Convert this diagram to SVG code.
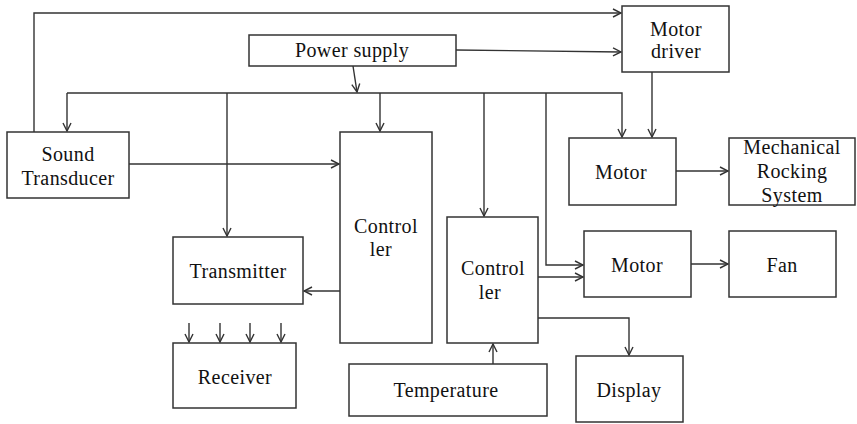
<svg xmlns="http://www.w3.org/2000/svg" width="857" height="424" viewBox="0 0 857 424">
<style>
.box{fill:#fff;stroke:#333;stroke-width:1.5}
.ln{fill:none;stroke:#333;stroke-width:1.4}
text{font-family:"Liberation Serif","Times New Roman",serif;font-size:20px;fill:#111;text-anchor:middle;letter-spacing:0.4px}
</style>
<defs>
<marker id="ah" markerUnits="userSpaceOnUse" markerWidth="10" markerHeight="10" refX="9" refY="5" orient="auto" viewBox="0 0 10 10">
<path d="M1,1 L9,5 L1,9" fill="none" stroke="#333" stroke-width="1.4"/>
</marker>
</defs>
<rect width="857" height="424" fill="#fff"/>
<g id="connectors">
<path class="ln" d="M34,132 V13 H621" marker-end="url(#ah)"/>
<path class="ln" d="M456,50 L621,52" marker-end="url(#ah)"/>
<path class="ln" d="M353,66 L357,92" marker-end="url(#ah)"/>
<path class="ln" d="M67,93 H622 V137" marker-end="url(#ah)"/>
<path class="ln" d="M67,93 V131" marker-end="url(#ah)"/>
<path class="ln" d="M227,93 V236" marker-end="url(#ah)"/>
<path class="ln" d="M380,93 V131" marker-end="url(#ah)"/>
<path class="ln" d="M484,93 V216" marker-end="url(#ah)"/>
<path class="ln" d="M546,93 V265 H583" marker-end="url(#ah)"/>
<path class="ln" d="M652,72 V137" marker-end="url(#ah)"/>
<path class="ln" d="M129,164 H339" marker-end="url(#ah)"/>
<path class="ln" d="M340,291 H304" marker-end="url(#ah)"/>
<path class="ln" d="M189,323 V342" marker-end="url(#ah)"/>
<path class="ln" d="M220,323 V342" marker-end="url(#ah)"/>
<path class="ln" d="M250,323 V342" marker-end="url(#ah)"/>
<path class="ln" d="M281,323 V342" marker-end="url(#ah)"/>
<path class="ln" d="M676,171 H728" marker-end="url(#ah)"/>
<path class="ln" d="M538,277 H583" marker-end="url(#ah)"/>
<path class="ln" d="M691,264 H728" marker-end="url(#ah)"/>
<path class="ln" d="M538,318 H629 V355" marker-end="url(#ah)"/>
<path class="ln" d="M493,364 V344" marker-end="url(#ah)"/>
</g>
<g id="power-supply"><rect class="box" x="249" y="35" width="207" height="31"/><text x="352" y="57">Power  supply</text></g>
<g id="motor-driver"><rect class="box" x="622" y="6" width="107" height="66"/><text x="676" y="36">Motor</text><text x="676" y="58">driver</text></g>
<g id="sound-transducer"><rect class="box" x="7" y="132" width="122" height="66"/><text x="68" y="161">Sound</text><text x="68" y="185">Transducer</text></g>
<g id="controller1"><rect class="box" x="340" y="132" width="92" height="211"/><text x="386" y="233">Control</text><text x="381" y="256">ler</text></g>
<g id="transmitter"><rect class="box" x="173" y="237" width="130" height="67"/><text x="238" y="278">Transmitter</text></g>
<g id="receiver"><rect class="box" x="173" y="343" width="123" height="65"/><text x="235" y="384">Receiver</text></g>
<g id="temperature"><rect class="box" x="349" y="364" width="198" height="52"/><text x="446" y="397">Temperature</text></g>
<g id="controller2"><rect class="box" x="447" y="217" width="91" height="126"/><text x="493" y="275">Control</text><text x="490" y="299">ler</text></g>
<g id="motor1"><rect class="box" x="569" y="138" width="107" height="67"/><text x="621" y="179">Motor</text></g>
<g id="mechanical"><rect class="box" x="729" y="138" width="126" height="67"/><text x="792" y="154">Mechanical</text><text x="792" y="178">Rocking</text><text x="792" y="202">System</text></g>
<g id="motor2"><rect class="box" x="584" y="231" width="107" height="66"/><text x="637" y="272">Motor</text></g>
<g id="fan"><rect class="box" x="729" y="231" width="107" height="66"/><text x="782" y="272">Fan</text></g>
<g id="display"><rect class="box" x="576" y="356" width="107" height="66"/><text x="629" y="397">Display</text></g>
</svg>
